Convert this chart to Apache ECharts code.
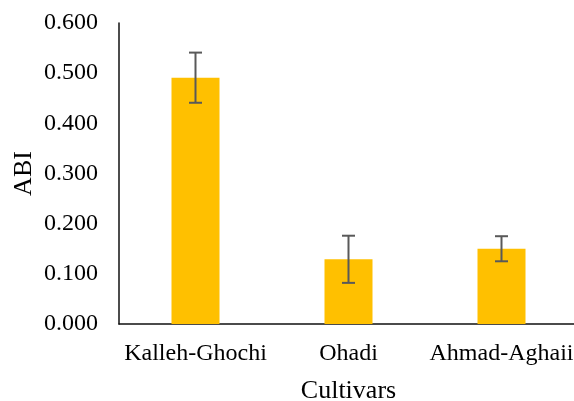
<!DOCTYPE html>
<html>
<head>
<meta charset="utf-8">
<script src="https://cdn.jsdelivr.net/npm/echarts@6/dist/echarts.min.js"></script>
<style>html,body{margin:0;padding:0;background:#fff}#c{width:574px;height:401px}</style>
</head>
<body>
<div id="c"></div>
<script>
const categories = ['Kalleh-Ghochi', 'Ohadi', 'Ahmad-Aghaii'];
const abiValues = [0.491, 0.129, 0.150];
const abiErrors = [0.050, 0.047, 0.025];
const yTicks = [0, 0.1, 0.2, 0.3, 0.4, 0.5, 0.6];

const font = 'Liberation Serif';
const chart = echarts.init(document.getElementById('c'), null, {renderer: 'canvas'});
const errData = categories.map((c, i) => [i, abiValues[i] - abiErrors[i], abiValues[i] + abiErrors[i]]);

chart.setOption({
  animation: false,
  grid: {left: 119, top: 23, width: 459, height: 301, containLabel: false, outerBoundsMode: 'none'},
  xAxis: {
    type: 'category',
    data: categories,
    axisLine: {lineStyle: {color: '#111', width: 1.5}},
    axisTick: {show: false},
    axisLabel: {color: '#000', fontFamily: font, fontSize: 24, margin: 18, interval: 0, hideOverlap: false},
    name: 'Cultivars',
    nameLocation: 'middle',
    nameGap: 54,
    nameMoveOverlap: false,
    nameTextStyle: {color: '#000', fontFamily: font, fontSize: 26}
  },
  yAxis: {
    type: 'value',
    min: yTicks[0],
    max: yTicks[yTicks.length - 1],
    interval: 0.1,
    splitLine: {show: false},
    axisLine: {show: true, lineStyle: {color: '#111', width: 1.5}},
    axisTick: {show: false},
    axisLabel: {color: '#000', fontFamily: font, fontSize: 24, margin: 21, formatter: v => v.toFixed(3)},
    name: 'ABI',
    nameLocation: 'middle',
    nameRotate: 90,
    nameGap: 82,
    nameMoveOverlap: false,
    nameTextStyle: {color: '#000', fontFamily: font, fontSize: 26}
  },
  series: [
    {
      type: 'bar',
      data: abiValues,
      barWidth: 48,
      itemStyle: {color: '#FFC000'}
    },
    {
      type: 'custom',
      data: errData,
      z: 10,
      renderItem: function (params, api) {
        const x = api.value(0);
        const lo = api.coord([x, api.value(1)]);
        const hi = api.coord([x, api.value(2)]);
        const hw = 6.5;
        const style = {stroke: '#595959', lineWidth: 2};
        return {
          type: 'group',
          children: [
            {type: 'line', shape: {x1: lo[0], y1: lo[1], x2: hi[0], y2: hi[1]}, style},
            {type: 'line', shape: {x1: lo[0] - hw, y1: lo[1], x2: lo[0] + hw, y2: lo[1]}, style},
            {type: 'line', shape: {x1: hi[0] - hw, y1: hi[1], x2: hi[0] + hw, y2: hi[1]}, style}
          ]
        };
      }
    }
  ]
});
</script>
</body>
</html>
